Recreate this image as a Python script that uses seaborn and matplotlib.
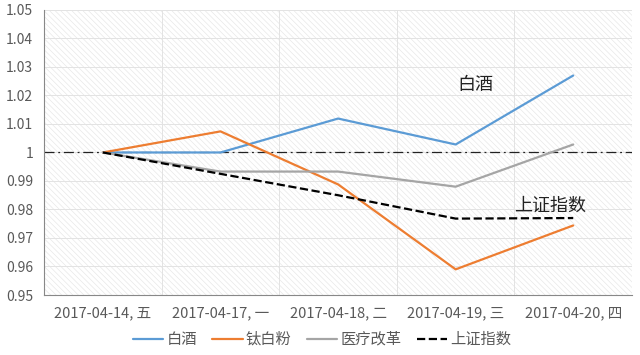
import matplotlib
matplotlib.use("Agg")
import matplotlib.pyplot as plt
import seaborn as sns
import pandas as pd

categories = ["2017-04-14, 五", "2017-04-17, 一", "2017-04-18, 二", "2017-04-19, 三", "2017-04-20, 四"]
baijiu = [1.0, 1.0, 1.0119, 1.0028, 1.0270]
taibaifen = [1.0, 1.0074, 0.9888, 0.9590, 0.9744]
yiliao = [1.0, 0.9933, 0.9933, 0.9880, 1.0028]
shangzheng = [1.0, 0.9925, 0.9850, 0.9768, 0.9770]
series_names = ["白酒", "钛白粉", "医疗改革", "上证指数"]
series_values = [baijiu, taibaifen, yiliao, shangzheng]
colors = ["#5B9BD5", "#ED7D31", "#A5A5A5", "#000000"]
styles = ["-", "-", "-", "--"]

sns.set_style("white")
plt.rcParams["font.family"] = ["Noto Sans CJK SC", "DejaVu Sans"]
plt.rcParams["hatch.linewidth"] = 0.5
plt.rcParams["hatch.color"] = "#e8e8e8"

fig = plt.figure(figsize=(6.4, 3.55), dpi=100)
ax = fig.add_axes([0.069, 0.169, 0.9185, 0.803])
ax.patch.set_facecolor("white")
ax.patch.set_hatch("\\\\\\\\\\\\")
ax.patch.set_edgecolor("#e8e8e8")

rows = []
for name, vals in zip(series_names, series_values):
    for i, v in enumerate(vals):
        rows.append({"x": i, "value": v, "series": name})
df = pd.DataFrame(rows)

for name, c, ls in zip(series_names, colors, styles):
    sub = df[df["series"] == name]
    sns.lineplot(data=sub, x="x", y="value", ax=ax, color=c, linestyle=ls,
                 linewidth=1.6, label=name, zorder=3)

ax.axhline(1.0, color="#222222", linestyle=(0, (8, 3, 1.5, 3)), linewidth=0.9, zorder=2)

ax.set_xlim(-0.5, 4.5)
ax.set_ylim(0.95, 1.05)
yt = [0.95 + 0.01 * i for i in range(11)]
ax.set_yticks(yt)
ax.set_yticklabels(["1" if abs(v - 1) < 1e-9 else f"{v:.2f}" for v in yt])
ax.set_xticks(range(5))
ax.set_xticklabels(categories)
ax.set_xticks([i - 0.5 for i in range(6)], minor=True)
ax.tick_params(axis="x", which="major", length=0, pad=8, labelsize=10.5, colors="#595959")
ax.tick_params(axis="x", which="minor", length=5, color="#888888", width=0.8)
ax.tick_params(axis="y", length=5, color="#888888", width=0.8, labelsize=10, colors="#595959", pad=3)
ax.grid(False)
for v in yt:
    ax.axhline(v, color="#e3e3e3", linewidth=0.7, zorder=1)
for xv in [i - 0.5 for i in range(6)]:
    ax.axvline(xv, color="#e3e3e3", linewidth=0.7, zorder=1)
for s in ["top", "right"]:
    ax.spines[s].set_visible(False)
ax.spines["left"].set_color("#888888")
ax.spines["bottom"].set_color("#888888")
ax.spines["left"].set_linewidth(0.8)
ax.spines["bottom"].set_linewidth(0.8)
ax.set_xlabel("")
ax.set_ylabel("")

ax.text(3.17, 1.0235, "白酒", fontsize=13, color="#222222", ha="center", va="center")
ax.text(3.8, 0.9815, "上证指数", fontsize=13, color="#222222", ha="center", va="center")

leg = ax.legend(loc="upper center", bbox_to_anchor=(0.503, 0.085), bbox_transform=fig.transFigure,
                ncol=4, frameon=False,
                fontsize=11, handlelength=2.0, handletextpad=0.2, columnspacing=1.0,
                borderaxespad=0)
for t in leg.get_texts():
    t.set_color("#595959")

fig.savefig("out.png", dpi=100)
